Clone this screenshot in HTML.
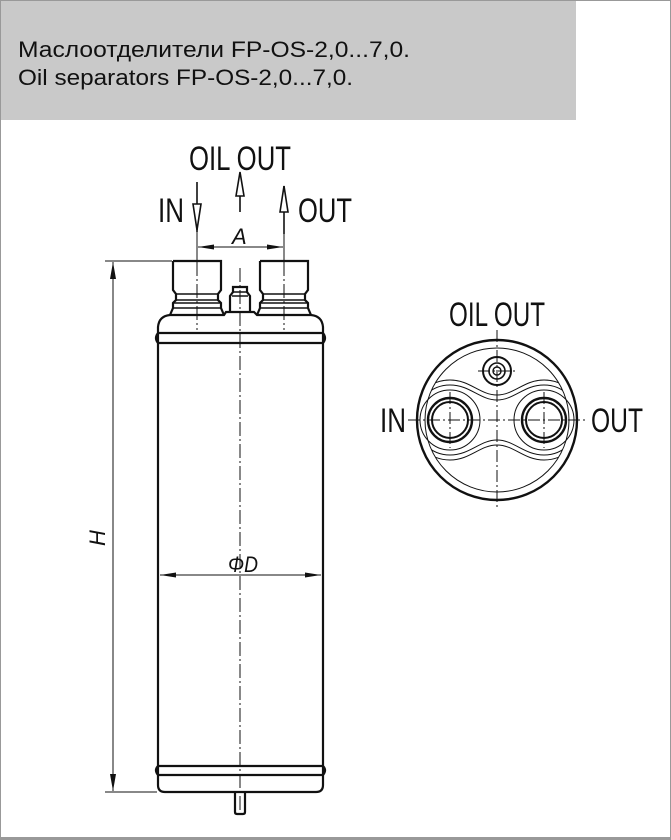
<!DOCTYPE html>
<html><head><meta charset="utf-8"><style>
body{margin:0;background:#fff}
svg{display:block}
text{font-family:"Liberation Sans","DejaVu Sans",sans-serif;fill:#111}
</style></head><body>
<svg width="671" height="840" viewBox="0 0 671 840" xmlns="http://www.w3.org/2000/svg">
<defs><clipPath id="c"><circle cx="497" cy="420" r="72"/></clipPath></defs>
<rect x="0.5" y="0.5" width="670" height="839" fill="#fff" stroke="#999" stroke-width="1"/>
<rect x="1" y="1" width="575" height="119" fill="#c9c9c9"/>
<text x="18" y="57" font-size="22" textLength="392" lengthAdjust="spacingAndGlyphs">Маслоотделители FP-OS-2,0...7,0.</text>
<text x="18" y="85" font-size="22" textLength="335" lengthAdjust="spacingAndGlyphs">Oil separators FP-OS-2,0...7,0.</text>
<rect x="0" y="837" width="671" height="3" fill="#999"/>

<g stroke="#111" fill="none" stroke-width="2.2">
<path d="M173 261 H221 V290 L218 294 V300 L221 303 V308 L224 315 M173 261 V290 L176 294 V300 L173 303 V308 L170 315"/>
<path d="M176 294 H218 M176 300 H218 M173 303 H221 M173 308 H221" stroke-width="1.5"/>
<path d="M260 261 H308 V290 L305 294 V300 L308 303 V308 L311 315 M260 261 V290 L263 294 V300 L260 303 V308 L257 315"/>
<path d="M263 294 H305 M263 300 H305 M260 303 H308 M260 308 H308" stroke-width="1.5"/>
<path d="M230 313 V296 L233 292 V287 H247 V292 L250 296 V313"/>
<path d="M233 292 H247 M232 296 H248" stroke-width="1.5"/>
<path d="M170 315 Q159 316 158 327 V785 Q158 792 165 792 H316 Q323 792 323 785 V327 Q322 316 311 315 H257 L254 312 H226 L224 315 Z"/>
<path d="M158 333 H323 M158 343 H323 M158 766 H323 M158 775 H323"/>
<path d="M158 333 Q154 338 158 343 M323 333 Q327 338 323 343 M158 766 Q154 770 158 775 M323 766 Q327 770 323 775"/>
<path d="M235 792 V812 Q235 814 237 814 H243 Q245 814 245 812 V792"/>
</g>

<g stroke="#111" stroke-width="1" stroke-dasharray="14,3,2,3" fill="none">
<path d="M240 268 V818"/>
<path d="M197 262 V330 M284 262 V330"/>
</g>

<g stroke="#111" stroke-width="1" fill="none">
<path d="M105 261 H172 M105 792 H157"/>
<path d="M113 262 V791"/>
<path d="M197 232 V262 M284 232 V262"/>
<path d="M198 247 H283"/>
<path d="M160 575 H321"/>
</g>
<g fill="#111">
<path d="M113 262 L110 279 L116 279Z M113 791 L110 774 L116 774Z"/>
<path d="M198 247 L214 244.5 L214 249.5Z M283 247 L267 244.5 L267 249.5Z"/>
<path d="M160 575 L176 572.5 L176 577.5Z M321 575 L305 572.5 L305 577.5Z"/>
</g>
<text x="232" y="244" font-size="22" font-style="italic">A</text>
<text x="228" y="572" font-size="22" font-style="italic" textLength="30" lengthAdjust="spacingAndGlyphs">ΦD</text>
<text x="0" y="0" font-size="22" font-style="italic" transform="translate(105,546) rotate(-90)">H</text>

<g stroke="#111" stroke-width="1.6" fill="#fff">
<path d="M197 182 V232"/>
<path d="M193 204 L197 230 L201 204Z"/>
<path d="M240 180 V212"/>
<path d="M236 196 L240 172 L244 196Z"/>
<path d="M284 186 V234"/>
<path d="M280 212 L284 186 L288 212Z"/>
</g>
<text x="189" y="170" font-size="34" textLength="102" lengthAdjust="spacingAndGlyphs">OIL OUT</text>
<text x="158" y="222" font-size="34" textLength="26" lengthAdjust="spacingAndGlyphs">IN</text>
<text x="298" y="222" font-size="34" textLength="54" lengthAdjust="spacingAndGlyphs">OUT</text>

<g stroke="#111" fill="none">
<circle cx="497" cy="420" r="80" stroke-width="2.4"/>
<circle cx="497" cy="420" r="72" stroke-width="1"/>
<circle cx="497" cy="371" r="14" stroke-width="2"/>
<circle cx="497" cy="371" r="8" stroke-width="1.6"/>
<circle cx="497" cy="371" r="4" stroke-width="1.4"/>
<g clip-path="url(#c)" stroke-width="1">
<path d="M450 380 C470 380 480 395 497 395 C514 395 524 380 544 380 A40 40 0 0 1 544 460 C524 460 514 445 497 445 C480 445 470 460 450 460 A40 40 0 0 1 450 380Z"/>
<path d="M450 385 C470 385 480 400 497 400 C514 400 524 385 544 385 A35 35 0 0 1 544 455 C524 455 514 440 497 440 C480 440 470 455 450 455 A35 35 0 0 1 450 385Z"/>
</g>
<circle cx="450" cy="420" r="30" stroke-width="1"/>
<circle cx="544" cy="420" r="30" stroke-width="1"/>
<circle cx="450" cy="420" r="22" stroke-width="2.4"/>
<circle cx="450" cy="420" r="18" stroke-width="2"/>
<circle cx="544" cy="420" r="22" stroke-width="2.4"/>
<circle cx="544" cy="420" r="18" stroke-width="2"/>
</g>
<g stroke="#111" stroke-width="1" stroke-dasharray="12,3,2,3" fill="none">
<path d="M497 330 V510 M408 420 H588"/>
<path d="M450 392 V448 M544 392 V448 M478 371 H516"/>
</g>
<text x="449" y="326" font-size="34" textLength="96" lengthAdjust="spacingAndGlyphs">OIL OUT</text>
<text x="380" y="432" font-size="34" textLength="26" lengthAdjust="spacingAndGlyphs">IN</text>
<text x="591" y="432" font-size="34" textLength="52" lengthAdjust="spacingAndGlyphs">OUT</text>
</svg>
</body></html>
